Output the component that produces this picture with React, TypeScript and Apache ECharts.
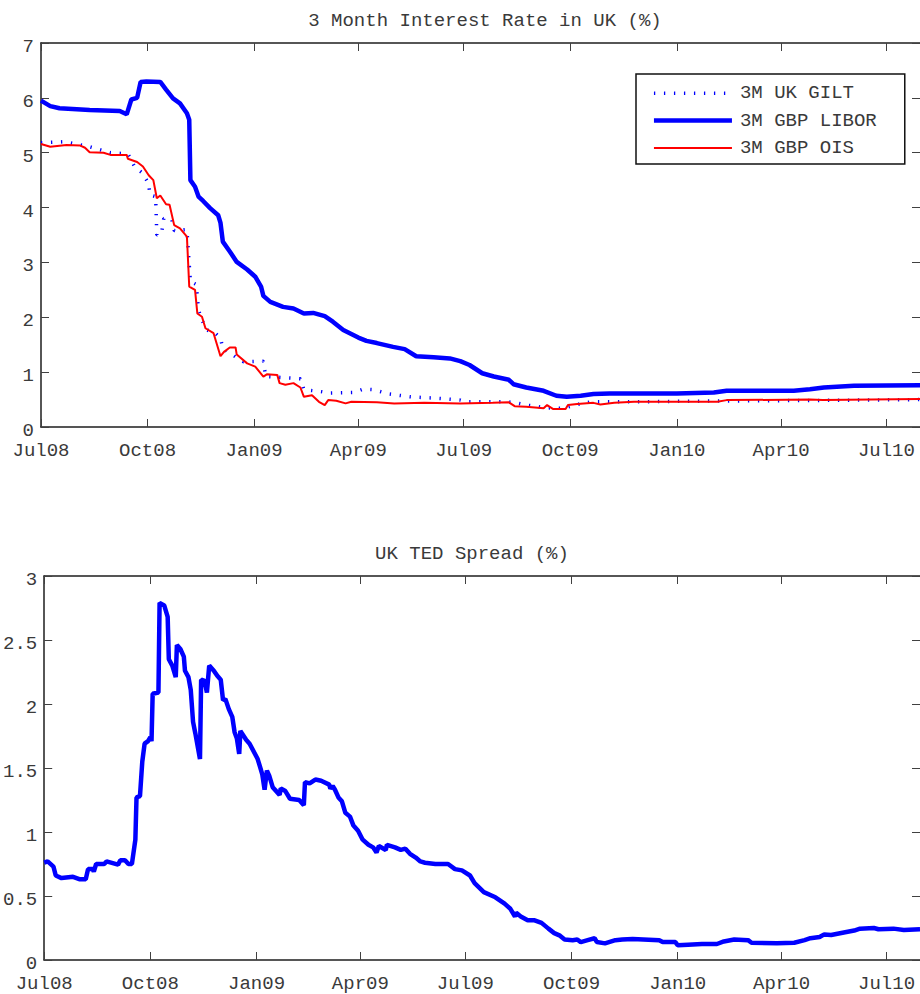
import React, { useEffect, useRef } from "react";
import * as echarts from "echarts";

// ---------- data ----------
const xTickDates = ["2008-07-01", "2008-10-01", "2009-01-01", "2009-04-01", "2009-07-01", "2009-10-01", "2010-01-01", "2010-04-01", "2010-07-01"];
const xTickLabels = ["Jul08", "Oct08", "Jan09", "Apr09", "Jul09", "Oct09", "Jan10", "Apr10", "Jul10"];
const xStart = "2008-07-01";
const xEnd = "2010-07-30";

const topTitle = "3 Month Interest Rate in UK (%)";
const bottomTitle = "UK TED Spread (%)";
const seriesNames = ["3M UK GILT", "3M GBP LIBOR", "3M GBP OIS"];
const tedName = "UK TED Spread";

const giltDates = [
  "2008-07-01", "2008-07-21", "2008-08-10", "2008-08-30", "2008-09-14", "2008-09-20", "2008-09-26", "2008-10-02",
  "2008-10-03", "2008-10-08", "2008-10-09", "2008-10-13", "2008-10-15", "2008-10-22", "2008-10-24", "2008-11-04",
  "2008-11-07", "2008-11-12", "2008-11-14", "2008-11-17", "2008-11-21", "2008-11-28", "2008-12-03", "2008-12-05",
  "2008-12-11", "2008-12-18", "2008-12-23", "2009-01-09", "2009-01-11", "2009-01-27", "2009-02-10", "2009-02-13",
  "2009-02-26", "2009-03-08", "2009-03-28", "2009-04-05", "2009-04-14", "2009-04-28", "2009-05-16", "2009-06-11",
  "2009-06-28", "2009-07-03", "2009-08-07", "2009-08-15", "2009-08-24", "2009-09-11", "2009-09-25", "2009-10-09",
  "2009-10-19", "2009-12-03", "2010-01-12", "2010-04-02", "2010-06-01", "2010-07-30",
];
const giltValues = [
  5.18, 5.2, 5.12, 5.0, 4.98, 4.74, 4.64, 4.44,
  4.23, 4.2, 3.5, 3.52, 3.8, 3.78, 3.58, 3.6,
  2.65, 2.6, 2.13, 1.95, 1.77, 1.72, 1.62, 1.43,
  1.35, 1.25, 1.19, 1.2, 0.92, 0.9, 0.88, 0.68,
  0.65, 0.62, 0.63, 0.69, 0.68, 0.6, 0.55, 0.52,
  0.49, 0.46, 0.46, 0.44, 0.4, 0.35, 0.34, 0.42,
  0.46, 0.46, 0.47, 0.48, 0.49, 0.5,
];

const liborDates = [
  "2008-07-01", "2008-07-09", "2008-07-17", "2008-08-12", "2008-09-07", "2008-09-13", "2008-09-17", "2008-09-22",
  "2008-09-25", "2008-09-30", "2008-10-12", "2008-10-17", "2008-10-23", "2008-10-29", "2008-11-04", "2008-11-06",
  "2008-11-07", "2008-11-11", "2008-11-14", "2008-11-18", "2008-11-24", "2008-12-01", "2008-12-03", "2008-12-05",
  "2008-12-11", "2008-12-17", "2008-12-26", "2009-01-02", "2009-01-07", "2009-01-09", "2009-01-15", "2009-01-26",
  "2009-02-04", "2009-02-13", "2009-02-21", "2009-03-03", "2009-03-10", "2009-03-19", "2009-04-01", "2009-04-08",
  "2009-04-17", "2009-05-01", "2009-05-11", "2009-05-21", "2009-06-05", "2009-06-19", "2009-06-28", "2009-07-06",
  "2009-07-17", "2009-07-27", "2009-08-09", "2009-08-13", "2009-08-24", "2009-09-08", "2009-09-19", "2009-09-28",
  "2009-10-10", "2009-10-21", "2009-11-04", "2009-12-03", "2010-01-01", "2010-02-02", "2010-02-13", "2010-04-12",
  "2010-04-26", "2010-05-08", "2010-06-03", "2010-07-30",
];
const liborValues = [
  5.95, 5.85, 5.81, 5.78, 5.76, 5.7, 5.97, 6.0,
  6.29, 6.3, 6.29, 6.15, 5.99, 5.9, 5.72, 5.6,
  4.5, 4.38, 4.2, 4.12, 3.99, 3.86, 3.72, 3.38,
  3.2, 3.01, 2.87, 2.74, 2.56, 2.39, 2.28, 2.19,
  2.16, 2.07, 2.08, 2.02, 1.92, 1.77, 1.63, 1.57,
  1.53, 1.46, 1.42, 1.29, 1.27, 1.25, 1.2, 1.13,
  0.98, 0.92, 0.86, 0.78, 0.72, 0.66, 0.57, 0.55,
  0.57, 0.6, 0.61, 0.61, 0.61, 0.63, 0.66, 0.66,
  0.69, 0.72, 0.75, 0.76,
];

const oisDates = [
  "2008-07-01", "2008-07-09", "2008-07-23", "2008-08-04", "2008-08-08", "2008-08-12", "2008-08-24", "2008-08-30",
  "2008-09-13", "2008-09-14", "2008-09-22", "2008-09-27", "2008-10-02", "2008-10-06", "2008-10-09", "2008-10-12",
  "2008-10-17", "2008-10-20", "2008-10-24", "2008-10-29", "2008-11-04", "2008-11-06", "2008-11-11", "2008-11-13",
  "2008-11-17", "2008-11-20", "2008-11-27", "2008-12-03", "2008-12-06", "2008-12-11", "2008-12-16", "2008-12-17",
  "2008-12-26", "2009-01-02", "2009-01-09", "2009-01-12", "2009-01-21", "2009-01-23", "2009-01-28", "2009-02-04",
  "2009-02-10", "2009-02-13", "2009-02-20", "2009-02-26", "2009-03-03", "2009-03-06", "2009-03-13", "2009-03-21",
  "2009-03-26", "2009-04-17", "2009-05-02", "2009-05-28", "2009-06-28", "2009-07-26", "2009-08-09", "2009-08-14",
  "2009-08-24", "2009-09-08", "2009-09-11", "2009-09-16", "2009-09-27", "2009-09-29", "2009-10-07", "2009-10-21",
  "2009-10-27", "2009-11-08", "2009-11-25", "2010-02-05", "2010-02-13", "2010-04-26", "2010-05-07", "2010-07-30",
];
const oisValues = [
  5.16, 5.11, 5.14, 5.13, 5.09, 5.01, 5.0, 4.96,
  4.96, 4.89, 4.83, 4.75, 4.59, 4.5, 4.17, 4.22,
  4.06, 4.05, 3.68, 3.62, 3.47, 2.56, 2.5, 2.07,
  2.01, 1.8, 1.71, 1.29, 1.37, 1.45, 1.45, 1.32,
  1.16, 1.1, 0.92, 0.96, 0.95, 0.8, 0.77, 0.8,
  0.72, 0.55, 0.58, 0.46, 0.4, 0.49, 0.48, 0.43,
  0.46, 0.45, 0.43, 0.44, 0.43, 0.44, 0.45, 0.38,
  0.37, 0.34, 0.4, 0.33, 0.33, 0.4, 0.42, 0.44,
  0.41, 0.44, 0.46, 0.46, 0.49, 0.5, 0.49, 0.51,
];

const tedDates = [
  "2008-07-01", "2008-07-04", "2008-07-09", "2008-07-11", "2008-07-16", "2008-07-26", "2008-08-01", "2008-08-06",
  "2008-08-08", "2008-08-12", "2008-08-13", "2008-08-15", "2008-08-22", "2008-08-24", "2008-09-03", "2008-09-05",
  "2008-09-09", "2008-09-12", "2008-09-15", "2008-09-18", "2008-09-19", "2008-09-22", "2008-09-24", "2008-09-26",
  "2008-09-29", "2008-10-01", "2008-10-02", "2008-10-03", "2008-10-08", "2008-10-09", "2008-10-13", "2008-10-16",
  "2008-10-17", "2008-10-20", "2008-10-23", "2008-10-24", "2008-10-27", "2008-10-30", "2008-10-31", "2008-11-03",
  "2008-11-05", "2008-11-07", "2008-11-09", "2008-11-13", "2008-11-14", "2008-11-17", "2008-11-19", "2008-11-21",
  "2008-11-25", "2008-11-28", "2008-12-01", "2008-12-03", "2008-12-05", "2008-12-08", "2008-12-11", "2008-12-13",
  "2008-12-15", "2008-12-17", "2008-12-18", "2008-12-23", "2008-12-26", "2009-01-02", "2009-01-04", "2009-01-06",
  "2009-01-08", "2009-01-10", "2009-01-12", "2009-01-15", "2009-01-21", "2009-01-22", "2009-01-26", "2009-01-30",
  "2009-02-07", "2009-02-11", "2009-02-12", "2009-02-16", "2009-02-21", "2009-02-26", "2009-03-05", "2009-03-06",
  "2009-03-08", "2009-03-10", "2009-03-13", "2009-03-16", "2009-03-19", "2009-03-23", "2009-03-26", "2009-03-30",
  "2009-04-03", "2009-04-08", "2009-04-12", "2009-04-15", "2009-04-17", "2009-04-23", "2009-04-24", "2009-05-01",
  "2009-05-06", "2009-05-10", "2009-05-14", "2009-05-19", "2009-05-23", "2009-05-27", "2009-06-05", "2009-06-16",
  "2009-06-22", "2009-06-28", "2009-07-05", "2009-07-09", "2009-07-17", "2009-07-27", "2009-08-04", "2009-08-09",
  "2009-08-13", "2009-08-14", "2009-08-18", "2009-08-24", "2009-08-30", "2009-09-05", "2009-09-11", "2009-09-16",
  "2009-09-21", "2009-09-25", "2009-10-02", "2009-10-06", "2009-10-09", "2009-10-15", "2009-10-21", "2009-10-23",
  "2009-10-30", "2009-11-08", "2009-11-14", "2009-11-23", "2009-12-16", "2009-12-19", "2009-12-30", "2010-01-01",
  "2010-01-10", "2010-01-22", "2010-02-04", "2010-02-10", "2010-02-19", "2010-03-03", "2010-03-06", "2010-03-28",
  "2010-04-12", "2010-04-21", "2010-04-26", "2010-05-04", "2010-05-08", "2010-05-14", "2010-05-25", "2010-06-03",
  "2010-06-08", "2010-06-20", "2010-06-24", "2010-07-07", "2010-07-16", "2010-07-30",
];
const tedValues = [
  0.76, 0.77, 0.73, 0.66, 0.64, 0.65, 0.63, 0.63,
  0.71, 0.71, 0.69, 0.75, 0.75, 0.77, 0.745, 0.78,
  0.78, 0.75, 0.75, 0.94, 1.27, 1.28, 1.55, 1.69,
  1.71, 1.74, 1.71, 2.08, 2.09, 2.79, 2.77, 2.68,
  2.35, 2.3, 2.21, 2.46, 2.43, 2.37, 2.26, 2.21,
  2.11, 1.86, 1.77, 1.57, 2.19, 2.18, 2.09, 2.3,
  2.26, 2.22, 2.19, 2.03, 2.04, 1.96, 1.9, 1.78,
  1.73, 1.61, 1.79, 1.72, 1.69, 1.57, 1.51, 1.45,
  1.33, 1.48, 1.44, 1.35, 1.29, 1.34, 1.32, 1.26,
  1.25, 1.21, 1.39, 1.38, 1.41, 1.4, 1.37, 1.34,
  1.36, 1.33, 1.27, 1.24, 1.15, 1.12, 1.05, 1.01,
  0.94, 0.9, 0.88, 0.84, 0.89, 0.86, 0.9, 0.88,
  0.86, 0.87, 0.83, 0.8, 0.77, 0.76, 0.75, 0.75,
  0.71, 0.7, 0.66, 0.6, 0.53, 0.49, 0.44, 0.4,
  0.34, 0.37, 0.34, 0.31, 0.31, 0.29, 0.245, 0.21,
  0.19, 0.16, 0.155, 0.16, 0.14, 0.155, 0.17, 0.14,
  0.13, 0.155, 0.16, 0.165, 0.155, 0.14, 0.14, 0.115,
  0.12, 0.125, 0.125, 0.145, 0.16, 0.155, 0.135, 0.13,
  0.135, 0.155, 0.17, 0.18, 0.2, 0.195, 0.215, 0.23,
  0.245, 0.25, 0.24, 0.245, 0.235, 0.24,
];

// ---------- helpers ----------
const ts = (d: string) => new Date(d + "T00:00:00Z").getTime();
const pairs = (dates: string[], values: number[]) => dates.map((d, i) => [ts(d), values[i]]);
const tickTimes = xTickDates.map(ts);
const labelFor = (v: number) => {
  const i = tickTimes.findIndex((t) => Math.abs(t - v) < 43200000);
  return i >= 0 ? xTickLabels[i] : "";
};

const FONT = "'Liberation Mono', 'DejaVu Sans Mono', monospace";
const TXT = "#3a3a3a";
const FS = 19;
const AXIS_LINE = { color: "#1e1e1e", width: 1.5 };
const TICK_LINE = { color: "#404040", width: 1 };

const giltLine = { color: "#0000ff", width: 3.5, type: [1.3, 8.7], cap: "butt" };
const liborLine = { color: "#0000ff", width: 4.5 };
const oisLine = { color: "#ff0000", width: 2 };
const tedLine = { color: "#0000ff", width: 4.5 };

function xAxisFor(gridIndex: number, position: "top" | "bottom") {
  return {
    type: "value",
    gridIndex,
    position,
    min: ts(xStart),
    max: ts(xEnd),
    axisLine: { show: true, onZero: false, lineStyle: AXIS_LINE },
    axisTick: { show: true, inside: true, length: 8, customValues: tickTimes, lineStyle: TICK_LINE },
    axisLabel: {
      show: position === "bottom",
      customValues: tickTimes,
      formatter: (v: number) => labelFor(v),
      margin: 14.5,
      color: TXT,
      fontFamily: FONT,
      fontSize: FS,
    },
    splitLine: { show: false },
  };
}

function yAxisFor(gridIndex: number, position: "left" | "right", max: number, interval: number) {
  return {
    type: "value",
    gridIndex,
    position,
    min: 0,
    max,
    interval,
    axisLine: { show: position === "left", onZero: false, lineStyle: AXIS_LINE },
    axisTick: { show: true, inside: true, length: 8, lineStyle: TICK_LINE },
    axisLabel: {
      show: position === "left",
      margin: 7,
      verticalAlign: "top",
      lineHeight: 8,
      color: TXT,
      fontFamily: FONT,
      fontSize: FS,
    },
    splitLine: { show: false },
  };
}

export default function App() {
  const ref = useRef<HTMLDivElement>(null);

  useEffect(() => {
    if (!ref.current) return;
    const chart = echarts.init(ref.current, null, { renderer: "svg" });
    chart.setOption({
      animation: false,
      backgroundColor: "#ffffff",
      title: [
        {
          text: topTitle,
          left: 485,
          top: 11,
          padding: 0,
          textAlign: "center",
          textStyle: { fontFamily: FONT, fontSize: FS, fontWeight: "normal", color: TXT },
        },
        {
          text: bottomTitle,
          left: 472,
          top: 544,
          padding: 0,
          textAlign: "center",
          textStyle: { fontFamily: FONT, fontSize: FS, fontWeight: "normal", color: TXT },
        },
      ],
      legend: {
        orient: "vertical",
        left: 636,
        top: 74,
        padding: [9.7, 28, 6.6, 15.7],
        itemWidth: 78,
        itemHeight: 19,
        itemGap: 8.35,
        borderColor: "#111",
        borderWidth: 1.5,
        borderRadius: 0,
        backgroundColor: "#ffffff",
        selectedMode: false,
        itemStyle: { opacity: 0 },
        textStyle: { fontFamily: FONT, fontSize: FS, color: TXT, padding: [0, 0, 0, 3] },
        data: [
          { name: seriesNames[0], lineStyle: giltLine },
          { name: seriesNames[1], lineStyle: liborLine },
          { name: seriesNames[2], lineStyle: oisLine },
        ],
      },
      grid: [
        { left: 41, right: 0, top: 43, height: 384 },
        { left: 41, right: 0, top: 576, height: 384 },
      ],
      xAxis: [xAxisFor(0, "bottom"), xAxisFor(0, "top"), xAxisFor(1, "bottom"), xAxisFor(1, "top")],
      yAxis: [yAxisFor(0, "left", 7, 1), yAxisFor(0, "right", 7, 1), yAxisFor(1, "left", 3, 0.5), yAxisFor(1, "right", 3, 0.5)],
      series: [
        {
          type: "line",
          name: seriesNames[0],
          xAxisIndex: 0,
          yAxisIndex: 0,
          data: pairs(giltDates, giltValues),
          showSymbol: false,
          silent: true,
          itemStyle: { color: "#0000ff", opacity: 0 },
          lineStyle: giltLine,
          z: 2,
        },
        {
          type: "line",
          name: seriesNames[1],
          xAxisIndex: 0,
          yAxisIndex: 0,
          data: pairs(liborDates, liborValues),
          showSymbol: false,
          silent: true,
          itemStyle: { color: "#0000ff", opacity: 0 },
          lineStyle: liborLine,
          z: 3,
        },
        {
          type: "line",
          name: seriesNames[2],
          xAxisIndex: 0,
          yAxisIndex: 0,
          data: pairs(oisDates, oisValues),
          showSymbol: false,
          silent: true,
          itemStyle: { color: "#ff0000", opacity: 0 },
          lineStyle: oisLine,
          z: 4,
        },
        {
          type: "line",
          name: tedName,
          xAxisIndex: 2,
          yAxisIndex: 2,
          data: pairs(tedDates, tedValues),
          showSymbol: false,
          silent: true,
          itemStyle: { color: "#0000ff", opacity: 0 },
          lineStyle: tedLine,
          z: 3,
        },
      ],
    });
    return () => chart.dispose();
  }, []);

  return (
    <div
      ref={ref}
      style={{ position: "absolute", left: 0, top: 0, width: 920, height: 994, background: "#fff" }}
    />
  );
}
